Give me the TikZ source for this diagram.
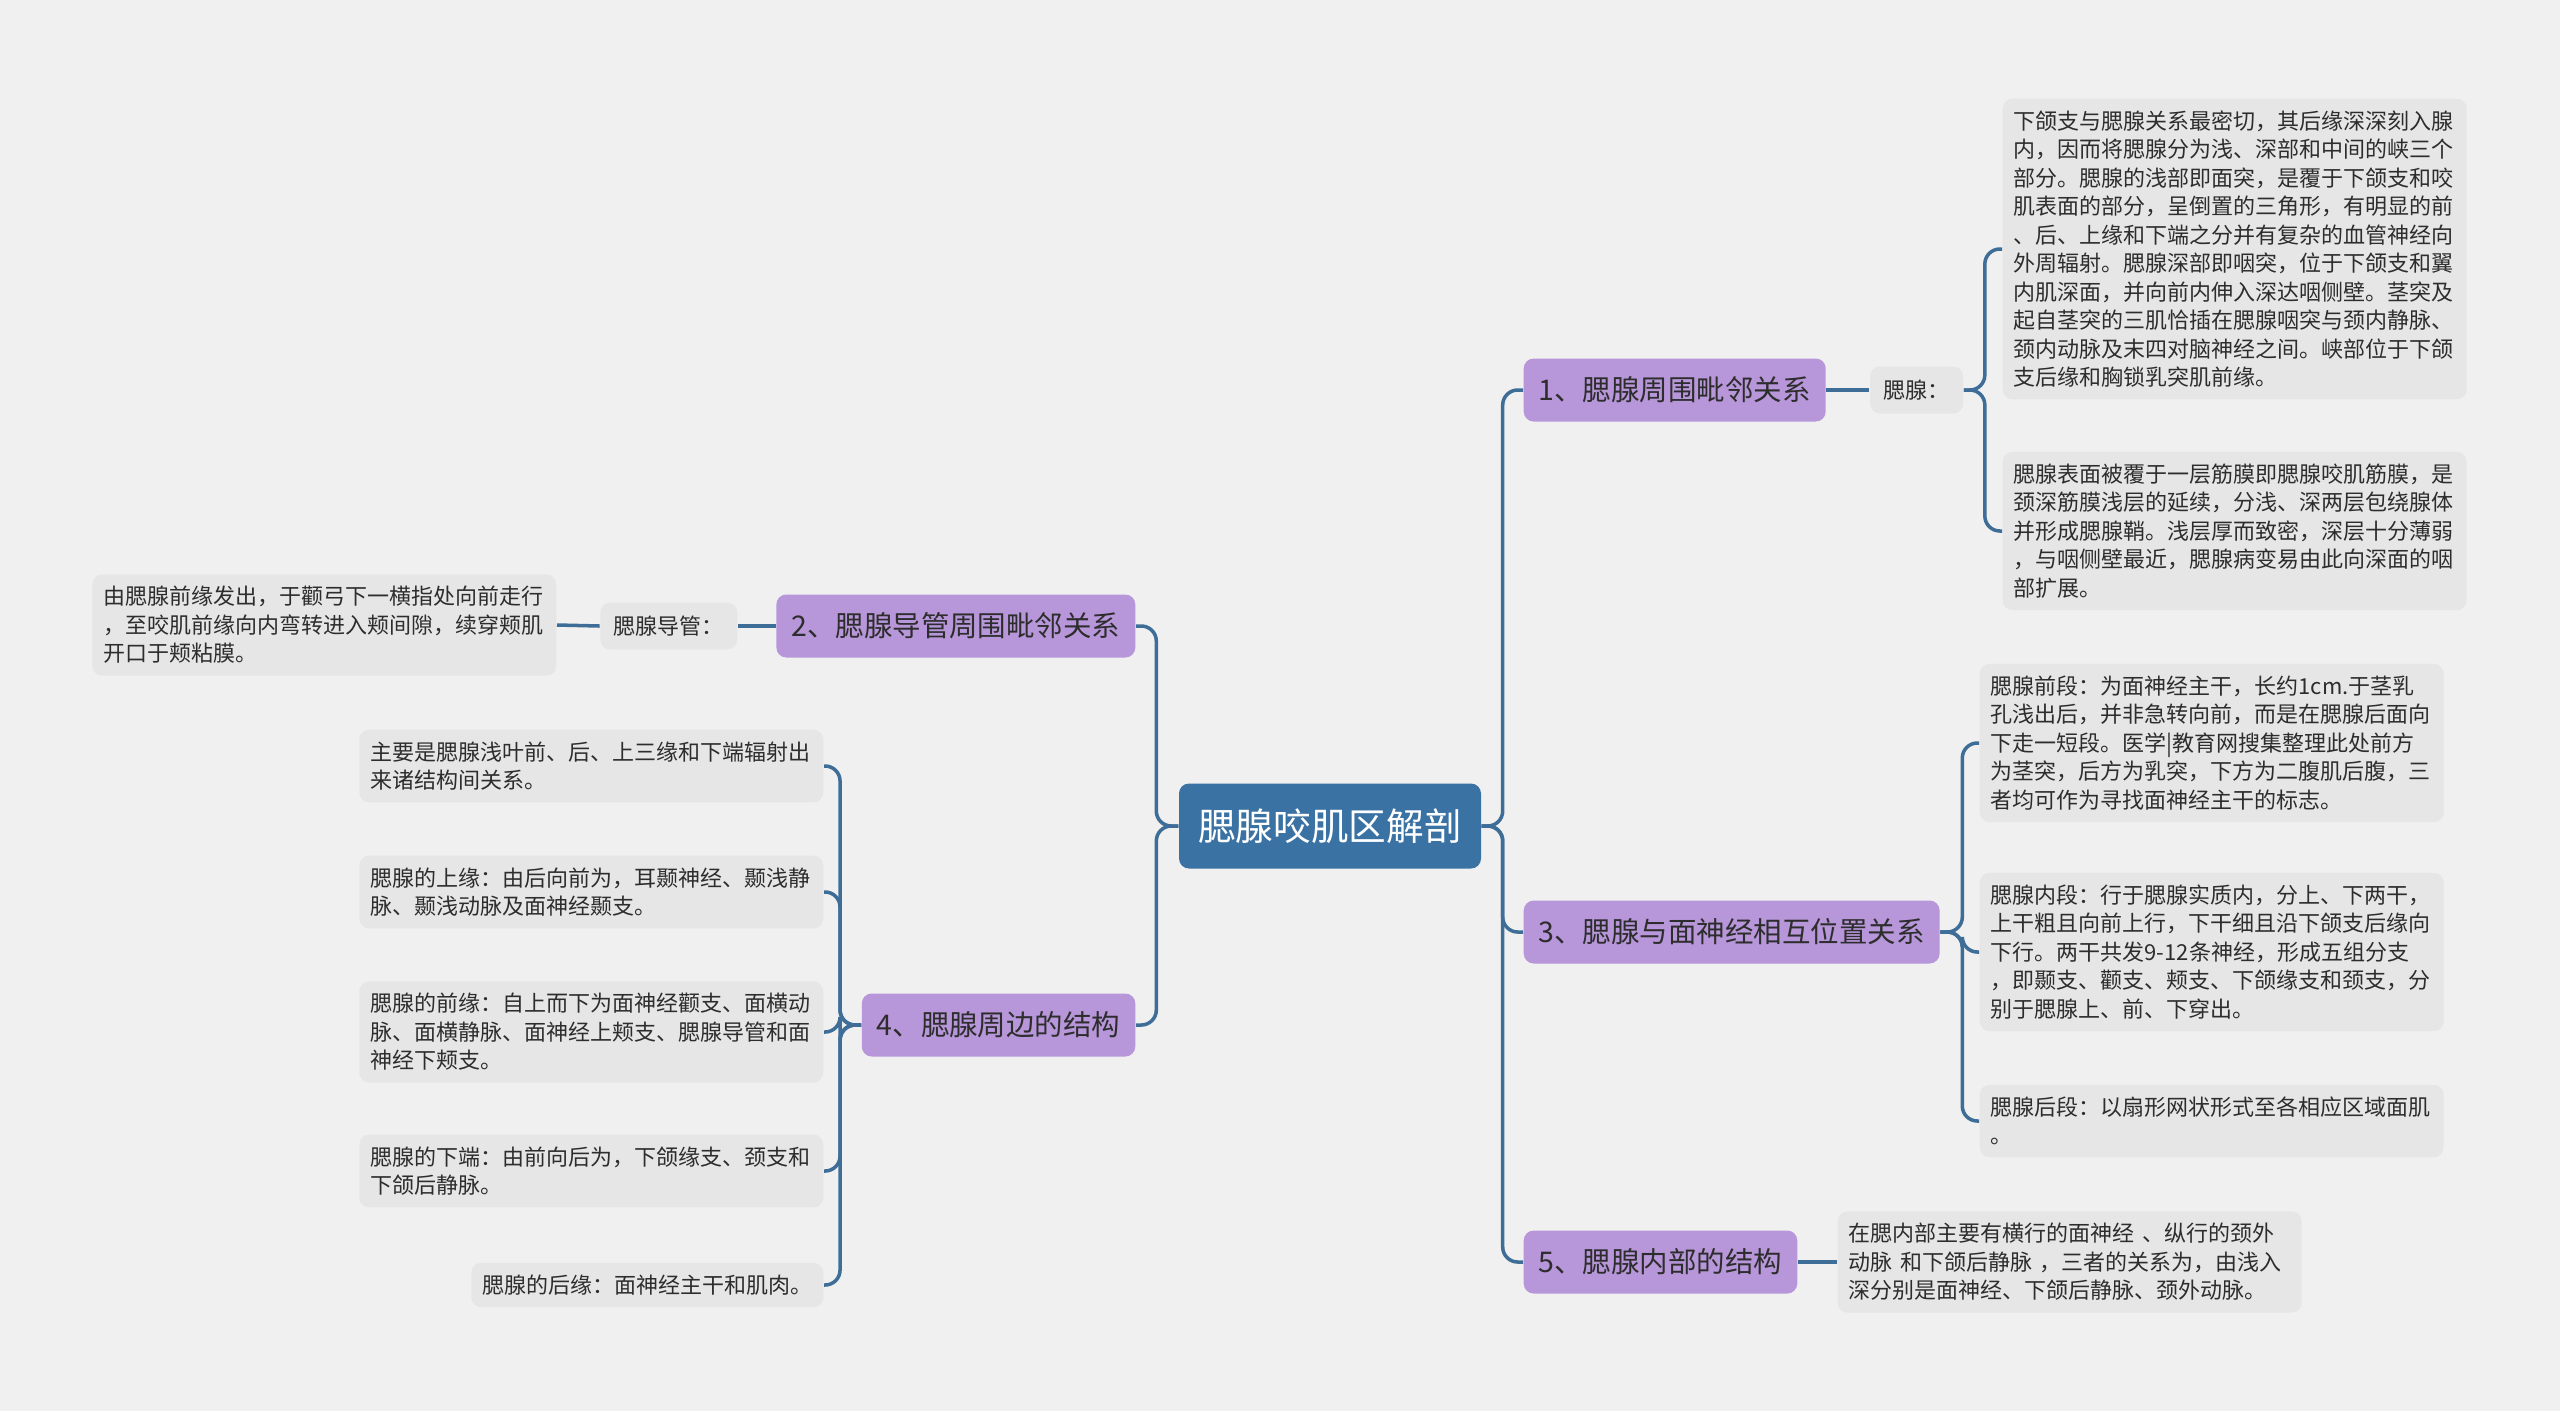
\documentclass[tikz,border=0pt]{standalone}
\usepackage{fontspec}
\setmainfont{Noto Sans CJK SC}
\usepackage{tikz}
\usetikzlibrary{positioning}
\usepackage{xcolor}
\definecolor{paper}{RGB}{240,240,240}
\definecolor{rootblue}{RGB}{59,114,164}
\definecolor{linkblue}{RGB}{62,110,152}
\definecolor{topicviolet}{RGB}{183,150,217}
\definecolor{leafgray}{RGB}{230,230,230}
\definecolor{inkgray}{RGB}{45,45,45}

\begin{document}
\begin{tikzpicture}[
    root/.style={rectangle, rounded corners=0.1cm, fill=rootblue, text=white,
                 minimum width=3.02cm, minimum height=0.85cm,
                 font=\fontsize{10.7}{12}\selectfont},
    topic/.style={rectangle, rounded corners=0.1cm, fill=topicviolet, text=inkgray,
                  inner xsep=0.15cm, minimum height=0.63cm,
                  font=\fontsize{8.1}{10}\selectfont},
    tag/.style={rectangle, rounded corners=0.1cm, fill=leafgray, text=inkgray,
                inner xsep=0.135cm, minimum height=0.47cm,
                font=\fontsize{6.26}{8.1}\selectfont},
    leaf/.style={rectangle, rounded corners=0.1cm, fill=leafgray, text=inkgray,
                 inner xsep=0.11cm, inner ysep=0.12cm, align=left,
                 font=\fontsize{6.26}{8.1}\selectfont},
    wide/.style={leaf, text width=4.42cm},
    link/.style={draw=linkblue, line width=1pt, rounded corners=0.15cm},
]
    \fill[paper] (0,0) rectangle (25.6,-14.11);
    \useasboundingbox (0,0) rectangle (25.6,-14.11);

    % Centre
    \node[root] (anat) at (13.30,-8.26) {腮腺咬肌区解剖};

    % Right side
    \node[topic, anchor=west] (adj) at (15.23,-3.90) {1、腮腺周围毗邻关系};
    \node[tag, right=0.43cm of adj] (adjTag) {腮腺：};
    \node[wide, anchor=west] (adjA) at (20.02,-2.49) {下颌支与腮腺关系最密切，其后缘深深刻入腺\\内，因而将腮腺分为浅、深部和中间的峡三个\\部分。腮腺的浅部即面突，是覆于下颌支和咬\\肌表面的部分，呈倒置的三角形，有明显的前\\、后、上缘和下端之分并有复杂的血管神经向\\外周辐射。腮腺深部即咽突，位于下颌支和翼\\内肌深面，并向前内伸入深达咽侧壁。茎突及\\起自茎突的三肌恰插在腮腺咽突与颈内静脉、\\颈内动脉及末四对脑神经之间。峡部位于下颌\\支后缘和胸锁乳突肌前缘。};
    \node[wide, anchor=west] (adjB) at (20.02,-5.31) {腮腺表面被覆于一层筋膜即腮腺咬肌筋膜，是\\颈深筋膜浅层的延续，分浅、深两层包绕腺体\\并形成腮腺鞘。浅层厚而致密，深层十分薄弱\\，与咽侧壁最近，腮腺病变易由此向深面的咽\\部扩展。};

    \node[topic, anchor=west] (nerve) at (15.23,-9.32) {3、腮腺与面神经相互位置关系};
    \node[wide, anchor=west] (nerveA) at (19.79,-7.43) {腮腺前段：为面神经主干，长约1cm.于茎乳\\孔浅出后，并非急转向前，而是在腮腺后面向\\下走一短段。医学|教育网搜集整理此处前方\\为茎突，后方为乳突，下方为二腹肌后腹，三\\者均可作为寻找面神经主干的标志。};
    \node[wide, anchor=west] (nerveB) at (19.79,-9.52) {腮腺内段：行于腮腺实质内，分上、下两干，\\上干粗且向前上行，下干细且沿下颌支后缘向\\下行。两干共发9-12条神经，形成五组分支\\，即颞支、颧支、颊支、下颌缘支和颈支，分\\别于腮腺上、前、下穿出。};
    \node[wide, anchor=west] (nerveC) at (19.79,-11.21) {腮腺后段：以扇形网状形式至各相应区域面肌\\。};

    \node[topic, anchor=west] (inner) at (15.23,-12.62) {5、腮腺内部的结构};
    \node[wide, anchor=west] (innerT) at (18.37,-12.62) {在腮内部主要有横行的面神经 、纵行的颈外\\动脉 和下颌后静脉 ，三者的关系为，由浅入\\深分别是面神经、下颌后静脉、颈外动脉。};

    \draw[link] (anat.east) -- ++(0.21,0) |- (adj.west);
    \draw[link] (anat.east) -- ++(0.21,0) |- (nerve.west);
    \draw[link] (anat.east) -- ++(0.21,0) |- (inner.west);
    \draw[link] (adj.east) -- (adjTag.west);
    \draw[link] (adjTag.east) -- ++(0.21,0) |- (adjA.west);
    \draw[link] (adjTag.east) -- ++(0.21,0) |- (adjB.west);
    \draw[link] (nerve.east) -- ++(0.22,0) |- (nerveA.west);
    \draw[link] (nerve.east) -- ++(0.22,0) |- (nerveB.west);
    \draw[link] (nerve.east) -- ++(0.22,0) |- (nerveC.west);
    \draw[link] (inner.east) -- (innerT.west);

    % Left side
    \node[topic, anchor=east] (duct) at (11.36,-6.26) {2、腮腺导管周围毗邻关系};
    \node[tag, anchor=east] (ductTag) at (7.38,-6.26) {腮腺导管：};
    \node[wide, anchor=east] (ductT) at (5.57,-6.25) {由腮腺前缘发出，于颧弓下一横指处向前走行\\，至咬肌前缘向内弯转进入颊间隙，续穿颊肌\\开口于颊粘膜。};

    \node[topic, anchor=east] (peri) at (11.36,-10.25) {4、腮腺周边的结构};
    \node[wide, anchor=east] (periA) at (8.24,-7.66) {主要是腮腺浅叶前、后、上三缘和下端辐射出\\来诸结构间关系。};
    \node[wide, anchor=east] (periB) at (8.24,-8.92) {腮腺的上缘：由后向前为，耳颞神经、颞浅静\\脉、颞浅动脉及面神经颞支。};
    \node[wide, anchor=east] (periC) at (8.24,-10.32) {腮腺的前缘：自上而下为面神经颧支、面横动\\脉、面横静脉、面神经上颊支、腮腺导管和面\\神经下颊支。};
    \node[wide, anchor=east] (periD) at (8.24,-11.71) {腮腺的下端：由前向后为，下颌缘支、颈支和\\下颌后静脉。};
    \node[leaf, anchor=east] (periE) at (8.24,-12.85) {腮腺的后缘：面神经主干和肌肉。};

    \draw[link] (anat.west) -- ++(-0.22,0) |- (duct.east);
    \draw[link] (anat.west) -- ++(-0.22,0) |- (peri.east);
    \draw[link] (duct.west) -- (ductTag.east);
    \draw[link] (ductTag.west) -- (ductT.east);
    \foreach \leafname in {periA,periB,periC,periD,periE}
        \draw[link] (peri.west) -- ++(-0.21,0) |- (\leafname.east);
\end{tikzpicture}
\end{document}
